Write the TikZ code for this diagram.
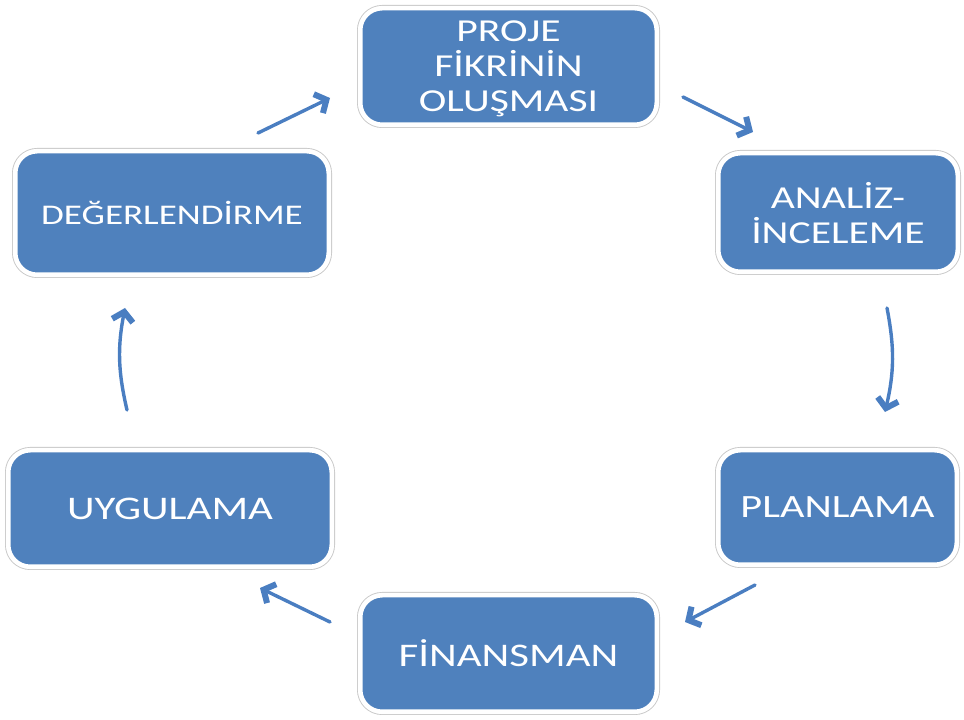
\documentclass[tikz,border=0pt]{standalone}
\usepackage{fontspec}
\setmainfont[FakeStretch=1.3]{Carlito}
\usetikzlibrary{arrows.meta}
\definecolor{boxblue}{HTML}{4F81BD}
\definecolor{arrblue}{HTML}{4A7EC1}
\definecolor{framegray}{HTML}{C8C8C8}
\begin{document}
\begin{tikzpicture}[x=1pt,y=1pt,
  box/.style={rounded corners=22, fill=boxblue, draw=white, line width=4.6,
    preaction={draw=framegray, line width=6.4}, outer sep=3.2, inner sep=0,
    text=white, align=center, text depth=0pt},
  arr/.style={draw=arrblue, line width=3.4, line cap=round,
    -{Straight Barb[length=9pt,width=21pt,line width=6pt]}}]
\useasboundingbox (0,0) rectangle (964,720);
\node[box, minimum width=296.6, minimum height=116.6, font=\fontsize{32}{35}\selectfont] (P) at (508.5,653.5) {PROJE\\FİKRİNİN\\OLUŞMASI};
\node[box, minimum width=239.6, minimum height=118.6, font=\fontsize{32}{35}\selectfont] (A) at (838,507.5) {ANALİZ-\\İNCELEME};
\node[box, minimum width=313.6, minimum height=123.6, font=\fontsize{28.5}{34}\selectfont] (D) at (172,507) {DEĞERLENDİRME};
\node[box, minimum width=323.6, minimum height=116.6, font=\fontsize{33}{38}\selectfont] (U) at (170,211.5) {UYGULAMA};
\node[box, minimum width=238.6, minimum height=114.6, font=\fontsize{32.5}{38}\selectfont] (L) at (837.5,212.5) {PLANLAMA};
\node[box, minimum width=296.6, minimum height=116.6, font=\fontsize{33}{39}\selectfont] (F) at (508.5,66.5) {FİNANSMAN};
\draw[arr] ([shift={(23,-30.5)}]P.east) -- ([shift={(38,18)}]A.north west);
\draw[arr] ([shift={(49,-33)}]A.south) to[bend left=12] ([shift={(47.5,35)}]L.north);
\draw[arr] ([shift={(40,-17)}]L.south west) -- ([shift={(25,31.5)}]F.east);
\draw[arr] ([shift={(-27,31.5)}]F.west) -- ([shift={(-75,-18)}]U.south east);
\draw[arr] ([shift={(-43,37)}]U.north) to[bend left=12] ([shift={(-47,-30)}]D.south);
\draw[arr] ([shift={(-74,15)}]D.north east) -- ([shift={(-27,-31.5)}]P.west);
\end{tikzpicture}
\end{document}
